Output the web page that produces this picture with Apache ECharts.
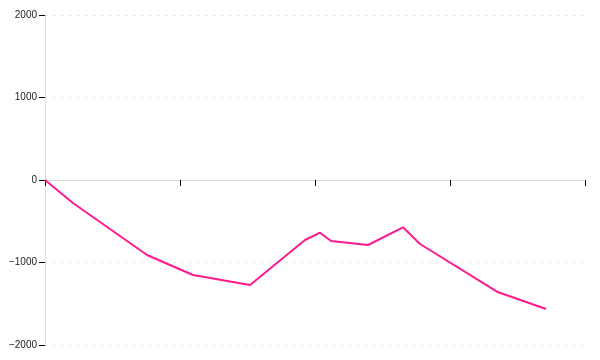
<!DOCTYPE html>
<html>
<head>
<meta charset="utf-8">
<script src="https://cdn.jsdelivr.net/npm/echarts@6/dist/echarts.min.js"></script>
<style>html,body{margin:0;padding:0;background:#fff}#c{width:600px;height:360px}</style>
</head>
<body>
<div id="c"></div>
<script>
var xValues = [0, 20.7, 75.6, 109.6, 151.9, 192.6, 203.7, 211.9, 227.4, 239.3, 265.2, 277.8, 334.8, 371.1];
var yValues = [0, -279, -909, -1152, -1273, -727, -639, -739, -767, -788, -573, -776, -1354, -1564];
var yTicks = [-2000, -1000, 0, 1000, 2000];

var data = xValues.map(function (x, i) { return [x, yValues[i]]; });
var chart = echarts.init(document.getElementById('c'), null, {renderer: 'canvas'});
chart.setOption({
  animation: false,
  grid: {left: 45, right: 15, top: 15, bottom: 15},
  xAxis: {
    type: 'value', min: 0, max: 400, interval: 100,
    axisLine: {show: true, onZero: true, lineStyle: {color: '#ddd', width: 1}},
    axisTick: {show: true, inside: false, length: 6, lineStyle: {color: '#000'}},
    axisLabel: {show: false},
    splitLine: {show: false}
  },
  yAxis: {
    type: 'value', min: yTicks[0], max: yTicks[yTicks.length - 1], interval: 1000,
    axisLine: {show: true, lineStyle: {color: '#ddd', width: 1}},
    axisTick: {show: true, length: 6, lineStyle: {color: '#000'}},
    axisLabel: {
      color: '#222', fontSize: 10, fontFamily: 'Liberation Sans, Arial, sans-serif', margin: 8,
      formatter: function (v) { return v < 0 ? '\u2212' + Math.abs(v) : String(v); }
    },
    splitLine: {show: true, lineStyle: {color: '#e8e8e8', type: [3, 5]}}
  },
  series: [{
    type: 'line', data: data, symbol: 'none',
    lineStyle: {color: '#ff1a8c', width: 2}
  }]
});
</script>
</body>
</html>
